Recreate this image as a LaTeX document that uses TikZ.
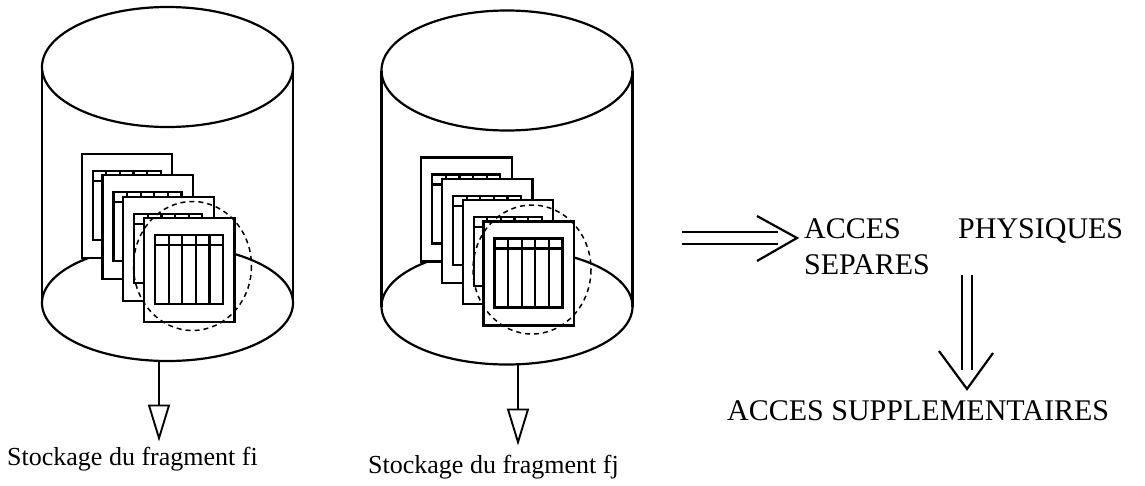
\documentclass[tikz,border=0pt]{standalone}
\usepackage{fontspec}
\setmainfont{Liberation Serif}
\usetikzlibrary{arrows.meta,calc}
\tikzset{
  ink/.style={line width=2.2pt, line join=miter},
  sheetbox/.style={ink, fill=white},
  lens/.style={line width=1.5pt, dash pattern=on 5pt off 4pt},
  storearrow/.style={ink, -{Triangle[open, length=37pt, width=22pt, line width=1.9pt]}},
  caption/.style={inner sep=0pt, anchor=base west, font=\fontsize{26}{31}\selectfont},
  bigtext/.style={inner sep=0pt, anchor=base west, font=\fontsize{30}{36}\selectfont},
  % a storage cylinder holding a pile of table sheets, origin at the top ellipse centre
  store/.pic={
    \draw[ink] (0,0) ellipse [x radius=125.5, y radius=60];
    \draw[ink] (-125.5,0) -- (-125.5,236) (125.5,0) -- (125.5,236);
    \draw[ink] (0,236) ellipse [x radius=125.5, y radius=58];
    \foreach \k in {0,1,2,3} {
      \begin{scope}[shift={(-85.75+20.75*\k, 87+21.3*\k)}]
        \draw[sheetbox] (0,0) rectangle (90.5,104);
        \draw[ink] (11,17) rectangle (79,86);
        \draw[ink] (11,27) -- (79,27);
        \foreach \c in {1,2,3,4} \draw[ink] (11+13.6*\c,17) -- (11+13.6*\c,86);
      \end{scope}
    }
    \draw[lens] (25,199) ellipse [x radius=59, y radius=64.5];
  }
}
\begin{document}
\begin{tikzpicture}[x=1pt,y=-1pt]
\useasboundingbox (0,0) rectangle (1145,485);

% the two fragment stores
\pic (fi) at (167.5,67) {store};
\pic (fj) at (507,70.5) {store};
\coordinate (fibase) at (159,361);
\coordinate (fjbase) at (518,363.5);

\node[caption] (capfi) at (7,465) {Stockage du fragment fi};
\node[caption] (capfj) at (368,473) {Stockage du fragment fj};
\draw[storearrow, shorten >=5pt] (fibase) -- (fibase |- capfi.north);
\draw[storearrow, shorten >=9pt] (fjbase) -- (fjbase |- capfj.north);

% consequences
\node[bigtext, text width=319pt, align=left] (phys) at (804,238) {ACCES\hfill PHYSIQUES\\SEPARES};
\node[bigtext] (supp) at (727,420) {ACCES SUPPLEMENTAIRES};

% horizontal implication arrow
\coordinate (hfrom) at (682,238);
\coordinate (hto) at ($(phys.base west)+(-7,0)$);
\draw[ink] ($(hfrom)+(0,-6)$) -- ($(hto)+(-19,-6)$)
           ($(hfrom)+(0,6)$) -- ($(hto)+(-19,6)$);
\draw[ink] ($(hto)+(-40,-22)$) -- (hto) -- ($(hto)+(-40,23)$);

% vertical implication arrow
\coordinate (vfrom) at (967,275);
\coordinate (vto) at (967,389);
\draw[ink] ($(vfrom)+(-5,0)$) -- ($(vto)+(-5,-19)$)
           ($(vfrom)+(5,0)$) -- ($(vto)+(5,-19)$);
\draw[ink] ($(vto)+(-28,-38)$) -- (vto) -- ($(vto)+(26,-36)$);
\end{tikzpicture}
\end{document}
